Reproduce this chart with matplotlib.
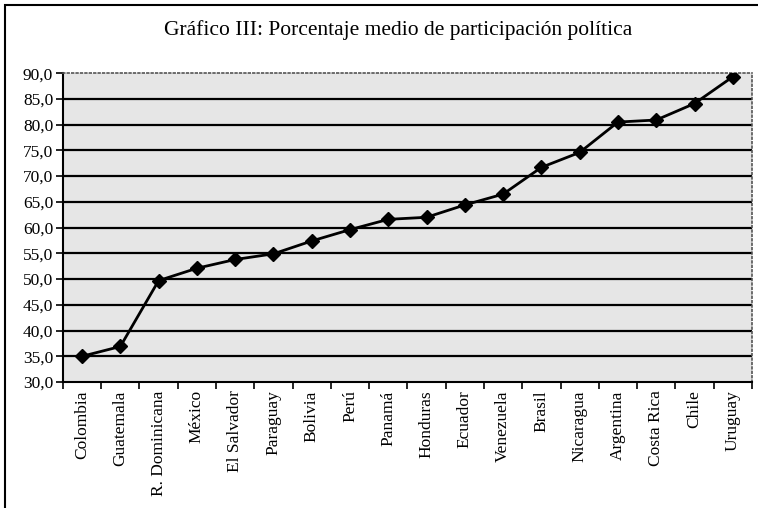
import numpy as np
import matplotlib
matplotlib.use("Agg")
import matplotlib.pyplot as plt
from matplotlib.patches import Rectangle

plt.rcParams["font.family"] = ["Liberation Serif", "DejaVu Serif"]

# %%
paises = [
    "Colombia", "Guatemala", "R. Dominicana", "México", "El Salvador",
    "Paraguay", "Bolivia", "Perú", "Panamá", "Honduras", "Ecuador",
    "Venezuela", "Brasil", "Nicaragua", "Argentina", "Costa Rica",
    "Chile", "Uruguay",
]
participacion = [
    35.0, 36.9, 49.7, 52.1, 53.8, 54.9, 57.4, 59.6, 61.6, 62.0, 64.4,
    66.5, 71.7, 74.6, 80.5, 80.9, 84.1, 89.3,
]
y_ticks = np.arange(30, 90.1, 5)

# %%
fig = plt.figure(figsize=(7.58, 5.08), dpi=100)
ax = fig.add_axes([0.083, 0.248, 0.909, 0.608])

# marco exterior
fig.patches.append(Rectangle((5 / 758, -0.01), 760 / 758, 1 - 5 / 508 + 0.01,
                             transform=fig.transFigure, fill=False,
                             edgecolor="black", linewidth=1.5))

fig.text(0.525, 0.94, "Gráfico III: Porcentaje medio de participación política",
         ha="center", va="center", fontsize=15.5)

x = np.arange(len(paises))
ax.set_facecolor("#e6e6e6")
for v in y_ticks[1:-1]:
    ax.axhline(v, color="black", lw=1.6, zorder=1)
ax.plot(x, participacion, color="black", lw=2, marker="D", markersize=7.5, zorder=3)

ax.set_xlim(-0.5, len(paises) - 0.5)
ax.set_ylim(30, 90)
ax.set_yticks(y_ticks)
ax.set_yticklabels([f"{v:.1f}".replace(".", ",") for v in y_ticks], fontsize=12.5)
ax.set_xticks(x)
ax.set_xticklabels(paises, rotation=90, fontsize=12.5)
ax.set_xticks(np.arange(-0.5, len(paises)), minor=True)
ax.tick_params(axis="x", which="major", length=0, pad=6)
ax.tick_params(axis="x", which="minor", length=5, width=1.2, direction="out")
ax.tick_params(axis="y", length=5, width=1.2, direction="out", pad=2)

for s in ["left", "bottom"]:
    ax.spines[s].set_linewidth(1.5)
for s in ["top", "right"]:
    ax.spines[s].set_color("#555555")
    ax.spines[s].set_linestyle(":")
    ax.spines[s].set_linewidth(1.2)

fig.savefig("out.png", dpi=100)
